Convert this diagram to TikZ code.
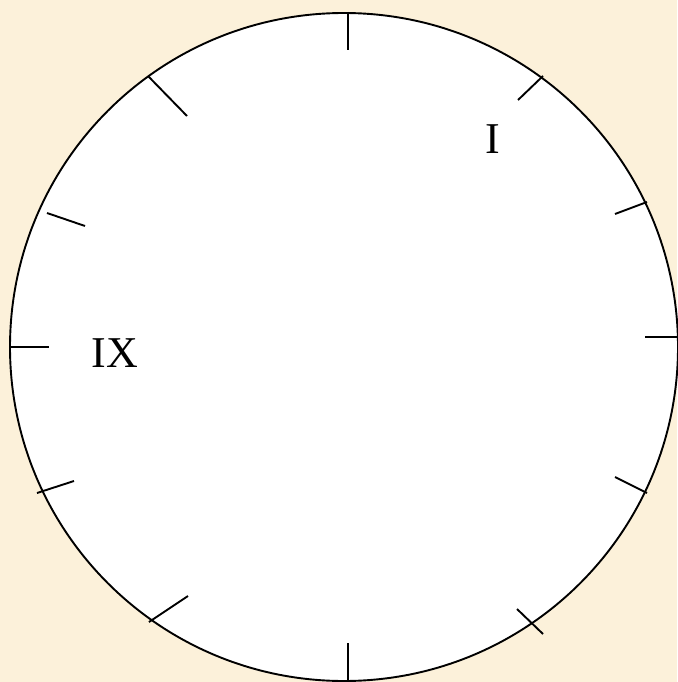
\documentclass[tikz,border=0pt]{standalone}
\usepackage{fontspec}
\setmainfont{Liberation Serif}
\definecolor{parch}{RGB}{252,241,218}
\begin{document}
\begin{tikzpicture}[x=1pt,y=-1pt,
  tick/.style={line width=1.9pt,black},
  numeral/.style={font=\fontsize{44}{44}\selectfont,anchor=base,inner sep=0pt}]
\fill[parch] (0,0) rectangle (677,682);
\useasboundingbox (0,0) rectangle (677,682);
\draw[line width=1.9pt,fill=white] (344,347) circle [radius=334];
\draw[tick] (348,12) -- (348,50);
\draw[tick] (543,76) -- (518,100);
\draw[tick] (647,202) -- (615,214);
\draw[tick] (645,337) -- (678,337);
\draw[tick] (615,477) -- (647,493);
\draw[tick] (517,609) -- (543,634);
\draw[tick] (348,643) -- (348,683);
\draw[tick] (149,622) -- (188,596);
\draw[tick] (37,493) -- (74,481);
\draw[tick] (10,347) -- (49,347);
\draw[tick] (47,213) -- (85,226);
\draw[tick] (148,76) -- (187,116);
\node[numeral] (one) at (493,153.5) {I};
\node[numeral] (nine) at (115,367) {IX};
\end{tikzpicture}
\end{document}
